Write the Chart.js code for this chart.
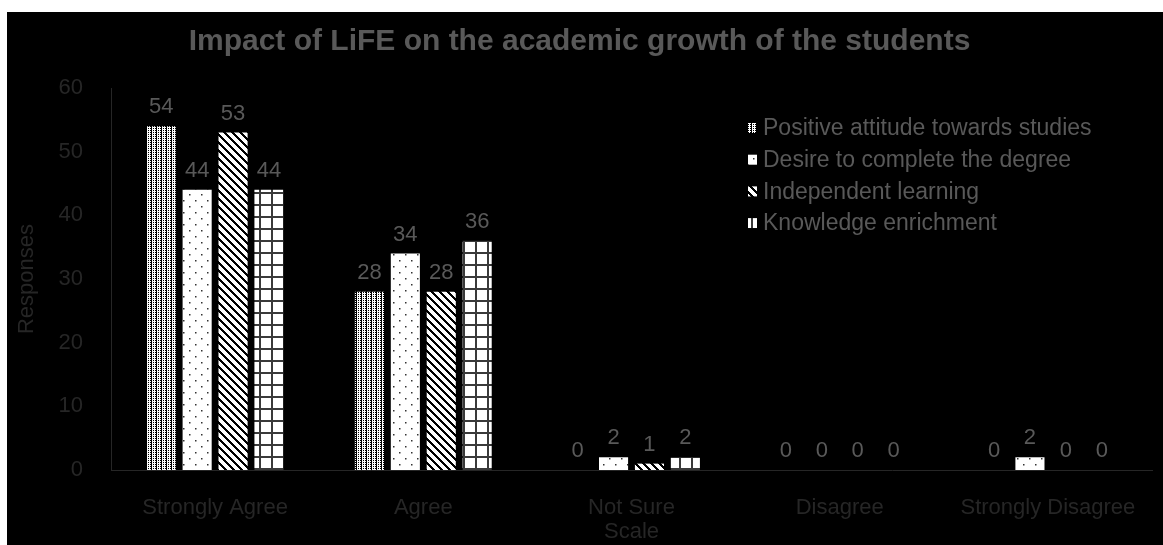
<!DOCTYPE html>
<html>
<head>
<meta charset="utf-8">
<title>Impact of LiFE</title>
<script src="https://cdn.jsdelivr.net/npm/chart.js"></script>
<style>
    body {
        margin: 0;
        background: #ffffff;
    }
    .chart-box {
        position: absolute;
        left: 7px;
        top: 12px;
        width: 1156px;
        height: 533px;
        background: #000000;
    }
</style>
</head>
<body>
<div class="chart-box">
    <canvas id="lifeChart"></canvas>
</div>
<script>
    // data
    var categories = ['Strongly Agree', 'Agree', 'Not Sure', 'Disagree', 'Strongly Disagree'];
    var seriesNames = ['Positive attitude towards studies', 'Desire to complete the degree', 'Independent learning', 'Knowledge enrichment'];
    var positiveAttitude = [54, 28, 0, 0, 0];
    var desireDegree = [44, 34, 2, 0, 2];
    var independentLearning = [53, 28, 1, 0, 0];
    var knowledgeEnrichment = [44, 36, 2, 0, 0];
    var yTicks = [0, 10, 20, 30, 40, 50, 60];

    var FONT = "'Liberation Sans', Arial, sans-serif";
    var dimText = '#262626';
    var midText = '#595959';

    // --- fill patterns (like the excel pattern fills) ---
    function makePattern(w, h, drawFn) {
        var c = document.createElement('canvas');
        c.width = w;
        c.height = h;
        var g = c.getContext('2d');
        drawFn(g, w, h);
        return document.getElementById('lifeChart').getContext('2d').createPattern(c, 'repeat');
    }

    // dense dotted
    var pat1 = makePattern(5, 2, function (g, w, h) {
        g.fillStyle = '#000';
        g.fillRect(0, 0, w, h);
        g.fillStyle = '#fff';
        g.fillRect(0, 0, 1, 1);
        g.fillRect(1, 1, 1, 1);
        g.fillRect(2, 0, 1, 1);
        g.fillRect(3, 1, 1, 1);
        g.fillRect(0, 1, 1, 1);
        g.fillRect(2, 1, 1, 1);
    });
    // sparse dots
    var pat2 = makePattern(12, 12, function (g, w, h) {
        g.fillStyle = '#fff';
        g.fillRect(0, 0, w, h);
        g.fillStyle = '#333';
        g.fillRect(2, 2, 1.5, 1.5);
        g.fillRect(8, 8, 1.5, 1.5);
    });
    // wide downward diagonal
    var pat3 = makePattern(8, 8, function (g, w, h) {
        g.fillStyle = '#fff';
        g.fillRect(0, 0, w, h);
        g.fillStyle = '#000';
        for (var y = 0; y < h; y++) {
            for (var x = 0; x < w; x++) {
                if ((((x - y) % 8) + 8) % 8 < 3) g.fillRect(x, y, 1, 1);
            }
        }
    });
    // large grid
    var pat4 = makePattern(12, 12, function (g, w, h) {
        g.fillStyle = '#fff';
        g.fillRect(0, 0, w, h);
        g.fillStyle = '#3a3a3a';
        g.fillRect(0, 0, 2, h);
        g.fillRect(0, 0, w, 2);
    });
    var patterns = [pat1, pat2, pat3, pat4];

    // value labels over every bar
    var valueLabels = {
        id: 'valueLabels',
        afterDatasetsDraw: function (chart) {
            var ctx = chart.ctx;
            ctx.save();
            ctx.font = '22px ' + FONT;
            ctx.fillStyle = midText;
            ctx.textAlign = 'center';
            ctx.textBaseline = 'middle';
            chart.data.datasets.forEach(function (ds, i) {
                var meta = chart.getDatasetMeta(i);
                meta.data.forEach(function (bar, j) {
                    ctx.fillText(ds.data[j], bar.x, bar.y - 19);
                });
            });
            ctx.restore();
        }
    };

    // legend drawn inside the plot, top right, stacked
    var insideLegend = {
        id: 'insideLegend',
        afterDraw: function (chart) {
            var ctx = chart.ctx;
            var x0 = 741, y0 = 116, rowH = 31.7;
            ctx.save();
            ctx.font = '23px ' + FONT;
            ctx.textBaseline = 'middle';
            chart.data.datasets.forEach(function (ds, i) {
                var y = y0 + i * rowH;
                ctx.fillStyle = ds.backgroundColor;
                ctx.fillRect(x0, y - 5, 9, 10);
                ctx.fillStyle = midText;
                ctx.fillText(ds.label, x0 + 15, y + 1);
            });
            ctx.restore();
        }
    };

    var datasets = [positiveAttitude, desireDegree, independentLearning, knowledgeEnrichment].map(function (vals, i) {
        return {
            label: seriesNames[i],
            data: vals,
            backgroundColor: patterns[i],
            borderWidth: 0,
            categoryPercentage: 0.69,
            barPercentage: 0.81
        };
    });

    var ctx = document.getElementById('lifeChart').getContext('2d');
    var lifeChart = new Chart(ctx, {
        type: 'bar',
        data: {
            labels: categories,
            datasets: datasets
        },
        options: {
            responsive: true,
            maintainAspectRatio: false,
            animation: false,
            layout: {
                padding: { left: 0, right: 11, top: 0, bottom: 0 }
            },
            plugins: {
                legend: { display: false },
                tooltip: { enabled: false },
                title: {
                    display: true,
                    text: 'Impact of LiFE on the academic growth of the students',
                    color: midText,
                    font: { family: FONT, size: 30, weight: 'bold' },
                    padding: { top: 12, bottom: 28 }
                }
            },
            scales: {
                x: {
                    grid: { display: false },
                    border: { display: true, color: '#262626', width: 1 },
                    ticks: {
                        color: dimText,
                        font: { family: FONT, size: 22 },
                        padding: 17,
                        maxRotation: 0,
                        autoSkip: false
                    },
                    title: {
                        display: true,
                        text: 'Scale',
                        color: dimText,
                        font: { family: FONT, size: 22 },
                        padding: { top: 0, bottom: 0 }
                    },
                    afterFit: function (scale) {
                        scale.height = 75;
                    }
                },
                y: {
                    min: 0,
                    max: 60,
                    grid: { display: false },
                    border: { display: true, color: '#262626', width: 1 },
                    afterBuildTicks: function (scale) {
                        scale.ticks = yTicks.map(function (v) { return { value: v }; });
                    },
                    ticks: {
                        color: dimText,
                        font: { family: FONT, size: 22 },
                        padding: 20
                    },
                    title: {
                        display: true,
                        text: 'Responses',
                        color: dimText,
                        font: { family: FONT, size: 22 },
                        padding: { top: 7, bottom: 0 }
                    },
                    afterFit: function (scale) {
                        scale.width = 104;
                    }
                }
            }
        },
        plugins: [valueLabels, insideLegend]
    });
</script>
</body>
</html>
